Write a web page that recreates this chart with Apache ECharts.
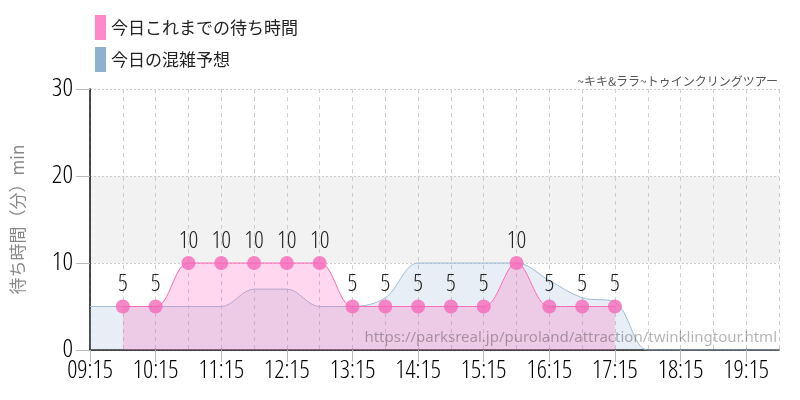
<!DOCTYPE html>
<html>
<head>
<meta charset="utf-8">
<script src="https://cdn.jsdelivr.net/npm/echarts@6/dist/echarts.min.js"></script>
<style>
  html, body { margin: 0; padding: 0; background: #fff; }
  #chart { width: 800px; height: 400px; }
</style>
</head>
<body>
<div id="chart"></div>
<script>
const times = ['09:15', '09:45', '10:15', '10:45', '11:15', '11:45', '12:15', '12:45', '13:15', '13:45', '14:15',
  '14:45', '15:15', '15:45', '16:15', '16:45', '17:15', '17:45', '18:15', '18:45', '19:15', '19:45'];
// today's actual waits so far
const actualWait = [null, 5, 5, 10, 10, 10, 10, 10, 5, 5, 5, 5, 5, 10, 5, 5, 5, null, null, null, null, null];
// today's forecast
const forecastWait = [5, 5, 5, 5, 5, 7, 7, 5, 5, 6, 10, 10, 10, 10, 8, 6, 5.5, 0, 0, 0, 0, 0];
const yTicks = [0, 10, 20, 30];

// Open Sans Condensed Light is the closest narrow face available
const numFont = "'Open Sans'";
const numWeight = '300 condensed';
const jpFont = "'Noto Sans CJK JP', sans-serif";

const chart = echarts.init(document.getElementById('chart'));

chart.setOption({
  animation: false,
  title: {
    text: '~キキ&ララ~トゥインクリングツアー',
    right: 17,
    top: 70,
    textStyle: { fontSize: 12, fontWeight: 'normal', color: '#555', fontFamily: jpFont }
  },
  legend: {
    orient: 'vertical',
    left: 90,
    top: 10,
    itemWidth: 11,
    itemHeight: 25,
    itemGap: 7,
    icon: 'rect',
    textStyle: { fontSize: 17, color: '#222', fontFamily: jpFont },
    data: [
      { name: '今日これまでの待ち時間', itemStyle: { color: '#ff88cc' } },
      { name: '今日の混雑予想', itemStyle: { color: '#8fb0cf' } }
    ]
  },
  grid: { left: 90, right: 21, top: 89, bottom: 50 },
  xAxis: {
    type: 'category',
    data: times,
    boundaryGap: false,
    axisLine: { lineStyle: { color: '#111', width: 1.5 } },
    axisTick: { interval: 1, length: 12, lineStyle: { color: '#bbb' } },
    axisLabel: { interval: 1, fontSize: 25, color: '#000', margin: 8, fontFamily: numFont, fontWeight: numWeight },
    splitLine: { show: true, interval: 0, lineStyle: { color: '#ccc', type: [4, 4] } }
  },
  yAxis: {
    type: 'value',
    min: yTicks[0],
    max: yTicks[yTicks.length - 1],
    interval: 10,
    name: '待ち時間（分）min',
    nameLocation: 'middle',
    nameGap: 64,
    nameRotate: 90,
    nameTextStyle: { fontSize: 17, color: '#888', fontFamily: jpFont },
    axisLine: { show: true, lineStyle: { color: '#111', width: 1.5 } },
    axisTick: { show: true, length: 14, lineStyle: { color: '#bbb' } },
    axisLabel: { fontSize: 26, color: '#000', margin: 17, fontFamily: numFont, fontWeight: numWeight },
    splitLine: { lineStyle: { color: '#ccc', type: [2, 2] } },
    splitArea: { show: true, areaStyle: { color: ['rgba(0,0,0,0)', '#f2f2f2', 'rgba(0,0,0,0)'] } }
  },
  series: [
    {
      name: '今日の混雑予想',
      type: 'line',
      data: forecastWait,
      smooth: 0.35,
      symbol: 'none',
      z: 2,
      lineStyle: { color: '#9fbcd6', width: 1 },
      itemStyle: { color: '#8fb0cf' },
      areaStyle: { color: 'rgba(140,175,210,0.3)' }
    },
    {
      name: '今日これまでの待ち時間',
      type: 'line',
      data: actualWait,
      smooth: 0.35,
      symbol: 'circle',
      symbolSize: 14,
      z: 3,
      lineStyle: { color: '#ff69b4', width: 1 },
      itemStyle: { color: 'rgba(245,105,185,0.8)' },
      areaStyle: { color: 'rgba(255,100,190,0.37)' },
      label: {
        show: true,
        position: 'top',
        distance: 3,
        fontSize: 24,
        color: '#222',
        fontFamily: numFont,
        fontWeight: numWeight
      }
    }
  ],
  graphic: [{
    type: 'text',
    right: 23,
    top: 330,
    z: 10,
    style: {
      text: 'https://parksreal.jp/puroland/attraction/twinklingtour.html',
      fontSize: 15,
      fill: 'rgba(0,0,0,0.3)',
      fontFamily: "'Noto Sans', sans-serif"
    }
  }]
});
</script>
</body>
</html>
